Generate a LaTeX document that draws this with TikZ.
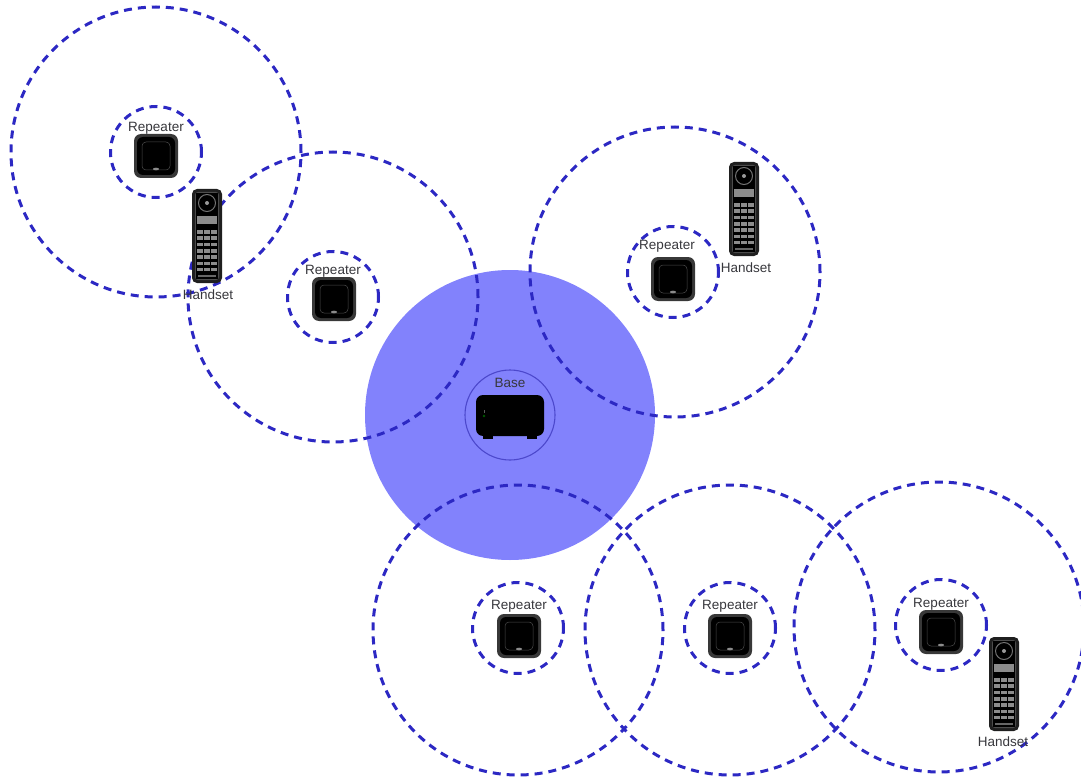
\documentclass[tikz,border=0pt]{standalone}
\usepackage{fontspec}
\setmainfont{Liberation Sans}
\definecolor{rangeblue}{RGB}{44,40,195}
\definecolor{basefill}{RGB}{130,130,252}
\definecolor{lbltext}{RGB}{55,55,60}
\begin{document}
\begin{tikzpicture}[x=1pt,y=-1pt,
  range/.style={circle, draw=rangeblue, line width=3pt,
    dash pattern=on 8pt off 6pt, minimum size=#1, inner sep=0pt},
  lbl/.style={text=lbltext, inner sep=0pt, font=\fontsize{13.5}{15}\selectfont},
  repeater/.pic={
    \fill[black!78, rounded corners=7pt] (-22,-22) rectangle (22,22);
    \fill[black, rounded corners=6pt] (-19,-19) rectangle (19,19);
    \draw[black!70, line width=0.5pt, rounded corners=4pt] (-14,-14) rectangle (14,14);
    \fill[black!45] (0,13) ellipse (3pt and 1.3pt);
  },
  handset/.pic={
    \fill[black!88, rounded corners=5pt] (-15,-47) rectangle (15,47);
    \fill[black!70, rounded corners=3pt] (-12,-44) rectangle (12,44);
    \fill[black] (-11,-43) rectangle (11,43);
    \draw[black!55, line width=1pt, fill=black] (0,-33) circle (8.5pt);
    \fill[black!40] (0,-33) circle (2pt);
    \fill[black!45] (-10,-20) rectangle (10,-12);
    \foreach \r in {0,...,6}
      \foreach \c in {-1,0,1}
        \fill[black!45] ({\c*7-2.6},{-6+\r*6.3}) rectangle ++(5.2,3.6);
    \fill[black!60] (-9,39) rectangle (9,41);
  },
  basestation/.pic={
    \fill[black, rounded corners=7pt] (-34,-21) rectangle (34,20);
    \fill[black] (-27,18) rectangle (-17,23);
    \fill[black] (17,18) rectangle (27,23);
    \fill[green!35!black] (-26,0) circle (1.4pt);
    \fill[black!65] (-26,-6) rectangle (-25,-3);
  }]
\useasboundingbox (0,0) rectangle (1081,778);

% coverage of the base station
\node[circle, fill=basefill, minimum size=290pt, inner sep=0pt] (basecov) at (510,415) {};
\node[circle, draw=rangeblue!85, line width=1.1pt, minimum size=90pt, inner sep=0pt] (baseinner) at (510,415) {};

% repeater coverage, outer and inner rings
\node[range=290pt] (cov1) at (156,152) {};
\node[range=290pt] (cov2) at (333,297) {};
\node[range=290pt] (cov3) at (675,272) {};
\node[range=290pt] (cov4) at (518,630) {};
\node[range=290pt] (cov5) at (730,630) {};
\node[range=290pt] (cov6) at (939,627) {};

\node[range=91pt] (ring1) at (156,152) {};
\node[range=91pt] (ring2) at (333,297) {};
\node[range=91pt] (ring3) at (673,272) {};
\node[range=91pt] (ring4) at (518,628) {};
\node[range=91pt] (ring5) at (730,628) {};
\node[range=91pt] (ring6) at (941,625) {};

% devices
\pic (base) at (510,416) {basestation};
\pic (rep1) at (156,156) {repeater};
\pic (rep2) at (334,299) {repeater};
\pic (rep3) at (673,279) {repeater};
\pic (rep4) at (519,636) {repeater};
\pic (rep5) at (730,636) {repeater};
\pic (rep6) at (941,632) {repeater};
\pic (hs1) at (207,236) {handset};
\pic (hs2) at (744,209) {handset};
\pic (hs3) at (1004,684) {handset};

% labels
\node[lbl] (lbase) at (510,383) {Base};
\node[lbl] (lrep1) at (156,128) {Repeater};
\node[lbl] (lrep2) at (333,271) {Repeater};
\node[lbl] (lrep3) at (667,246) {Repeater};
\node[lbl] (lrep4) at (519,606) {Repeater};
\node[lbl] (lrep5) at (730,606) {Repeater};
\node[lbl] (lrep6) at (941,604) {Repeater};
\node[lbl] (lhs1) at (208,295) {Handset};
\node[lbl] (lhs2) at (746,268) {Handset};
\node[lbl] (lhs3) at (1003,742) {Handset};
\end{tikzpicture}
\end{document}
